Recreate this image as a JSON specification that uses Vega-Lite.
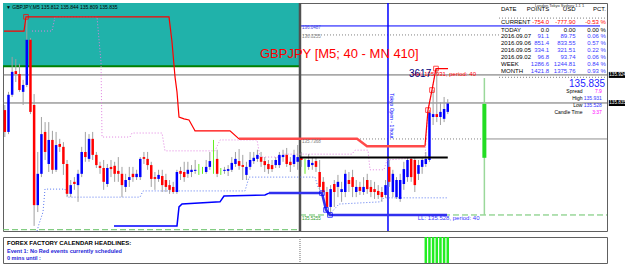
{
"$schema":"https://vega.github.io/schema/vega-lite/v6.json",
"padding":{"left":1,"top":1,"right":0,"bottom":0},
"background":"#ffffff",
"spacing":1,
"config":{"font":"Liberation Sans","view":{"stroke":"#606060","strokeWidth":1},"axis":{"grid":false,"title":null,"labelFontSize":5,"labelColor":"#000000","tickColor":"#000000","domainColor":"#404040","labelOverlap":false,"labelFlush":false,"labelBound":false}},
"datasets":{
"candles":[
{"i":0,"o":135.817,"h":135.831,"l":135.743,"c":135.757},
{"i":1,"o":135.757,"h":135.867,"l":135.751,"c":135.859},
{"i":2,"o":135.859,"h":135.963,"l":135.853,"c":135.922},
{"i":3,"o":135.924,"h":135.957,"l":135.894,"c":135.916},
{"i":4,"o":135.916,"h":135.944,"l":135.867,"c":135.872},
{"i":5,"o":135.867,"h":135.900,"l":135.831,"c":135.886},
{"i":6,"o":135.886,"h":136.073,"l":135.880,"c":136.010},
{"i":7,"o":136.010,"h":136.015,"l":135.806,"c":135.812},
{"i":8,"o":135.831,"h":135.861,"l":135.499,"c":135.556},
{"i":9,"o":135.556,"h":135.702,"l":135.537,"c":135.642},
{"i":10,"o":135.642,"h":135.798,"l":135.633,"c":135.751},
{"i":11,"o":135.757,"h":135.784,"l":135.680,"c":135.702},
{"i":12,"o":135.669,"h":135.784,"l":135.647,"c":135.735},
{"i":13,"o":135.735,"h":135.760,"l":135.642,"c":135.653},
{"i":14,"o":135.653,"h":135.757,"l":135.647,"c":135.721},
{"i":15,"o":135.724,"h":135.738,"l":135.702,"c":135.716},
{"i":16,"o":135.716,"h":135.729,"l":135.639,"c":135.669},
{"i":17,"o":135.669,"h":135.680,"l":135.578,"c":135.587},
{"i":18,"o":135.587,"h":135.625,"l":135.578,"c":135.611},
{"i":19,"o":135.620,"h":135.633,"l":135.598,"c":135.614},
{"i":20,"o":135.611,"h":135.653,"l":135.565,"c":135.642},
{"i":21,"o":135.642,"h":135.716,"l":135.633,"c":135.702},
{"i":22,"o":135.702,"h":135.757,"l":135.675,"c":135.688},
{"i":23,"o":135.683,"h":135.751,"l":135.675,"c":135.738},
{"i":24,"o":135.738,"h":135.757,"l":135.680,"c":135.694},
{"i":25,"o":135.694,"h":135.702,"l":135.658,"c":135.666},
{"i":26,"o":135.664,"h":135.675,"l":135.642,"c":135.658},
{"i":27,"o":135.658,"h":135.680,"l":135.598,"c":135.620},
{"i":28,"o":135.614,"h":135.669,"l":135.606,"c":135.658},
{"i":29,"o":135.661,"h":135.680,"l":135.633,"c":135.655},
{"i":30,"o":135.664,"h":135.675,"l":135.620,"c":135.642},
{"i":31,"o":135.650,"h":135.688,"l":135.620,"c":135.642},
{"i":32,"o":135.642,"h":135.661,"l":135.578,"c":135.611},
{"i":33,"o":135.606,"h":135.642,"l":135.592,"c":135.625},
{"i":34,"o":135.625,"h":135.661,"l":135.606,"c":135.633},
{"i":35,"o":135.642,"h":135.661,"l":135.620,"c":135.633},
{"i":36,"o":135.633,"h":135.653,"l":135.625,"c":135.642},
{"i":37,"o":135.633,"h":135.688,"l":135.625,"c":135.683},
{"i":38,"o":135.688,"h":135.702,"l":135.669,"c":135.683},
{"i":39,"o":135.683,"h":135.702,"l":135.653,"c":135.666},
{"i":40,"o":135.666,"h":135.675,"l":135.606,"c":135.628},
{"i":41,"o":135.633,"h":135.647,"l":135.598,"c":135.628},
{"i":42,"o":135.628,"h":135.653,"l":135.620,"c":135.639},
{"i":43,"o":135.636,"h":135.653,"l":135.592,"c":135.611},
{"i":44,"o":135.625,"h":135.642,"l":135.592,"c":135.606},
{"i":45,"o":135.611,"h":135.625,"l":135.587,"c":135.598},
{"i":46,"o":135.606,"h":135.620,"l":135.587,"c":135.592},
{"i":47,"o":135.592,"h":135.653,"l":135.587,"c":135.647},
{"i":48,"o":135.650,"h":135.661,"l":135.625,"c":135.642},
{"i":49,"o":135.647,"h":135.675,"l":135.620,"c":135.633},
{"i":50,"o":135.642,"h":135.675,"l":135.631,"c":135.653},
{"i":51,"o":135.647,"h":135.666,"l":135.633,"c":135.653},
{"i":52,"o":135.650,"h":135.680,"l":135.642,"c":135.653},
{"i":53,"o":135.650,"h":135.669,"l":135.639,"c":135.650},
{"i":54,"o":135.650,"h":135.661,"l":135.642,"c":135.650},
{"i":55,"o":135.647,"h":135.680,"l":135.642,"c":135.661},
{"i":56,"o":135.661,"h":135.702,"l":135.653,"c":135.677},
{"i":57,"o":135.675,"h":135.735,"l":135.642,"c":135.675},
{"i":58,"o":135.683,"h":135.708,"l":135.633,"c":135.642},
{"i":59,"o":135.647,"h":135.658,"l":135.639,"c":135.647},
{"i":60,"o":135.650,"h":135.661,"l":135.642,"c":135.653},
{"i":61,"o":135.650,"h":135.666,"l":135.636,"c":135.655},
{"i":62,"o":135.653,"h":135.688,"l":135.647,"c":135.672},
{"i":63,"o":135.669,"h":135.702,"l":135.661,"c":135.683},
{"i":64,"o":135.677,"h":135.710,"l":135.653,"c":135.664},
{"i":65,"o":135.666,"h":135.694,"l":135.625,"c":135.661},
{"i":66,"o":135.639,"h":135.675,"l":135.625,"c":135.661},
{"i":67,"o":135.661,"h":135.702,"l":135.653,"c":135.680},
{"i":68,"o":135.677,"h":135.702,"l":135.669,"c":135.686},
{"i":69,"o":135.683,"h":135.708,"l":135.675,"c":135.694},
{"i":70,"o":135.688,"h":135.702,"l":135.661,"c":135.675},
{"i":71,"o":135.677,"h":135.688,"l":135.647,"c":135.666},
{"i":72,"o":135.669,"h":135.680,"l":135.642,"c":135.655},
{"i":73,"o":135.666,"h":135.680,"l":135.647,"c":135.655},
{"i":74,"o":135.666,"h":135.688,"l":135.658,"c":135.680},
{"i":75,"o":135.666,"h":135.702,"l":135.658,"c":135.694},
{"i":76,"o":135.688,"h":135.708,"l":135.675,"c":135.694},
{"i":77,"o":135.694,"h":135.713,"l":135.661,"c":135.669},
{"i":78,"o":135.675,"h":135.688,"l":135.647,"c":135.666},
{"i":79,"o":135.669,"h":135.708,"l":135.661,"c":135.694},
{"i":80,"o":135.675,"h":135.721,"l":135.653,"c":135.688},
{"i":81,"o":135.686,"h":135.702,"l":135.661,"c":135.680},
{"i":82,"o":135.666,"h":135.683,"l":135.642,"c":135.666},
{"i":83,"o":135.661,"h":135.696,"l":135.653,"c":135.680},
{"i":84,"o":135.666,"h":135.688,"l":135.653,"c":135.672},
{"i":85,"o":135.677,"h":135.688,"l":135.647,"c":135.661},
{"i":86,"o":135.647,"h":135.680,"l":135.598,"c":135.606},
{"i":87,"o":135.620,"h":135.633,"l":135.589,"c":135.592},
{"i":88,"o":135.592,"h":135.606,"l":135.543,"c":135.551},
{"i":89,"o":135.551,"h":135.611,"l":135.528,"c":135.600},
{"i":90,"o":135.614,"h":135.625,"l":135.551,"c":135.592},
{"i":91,"o":135.606,"h":135.639,"l":135.578,"c":135.620},
{"i":92,"o":135.592,"h":135.620,"l":135.565,"c":135.600},
{"i":93,"o":135.592,"h":135.653,"l":135.578,"c":135.642},
{"i":94,"o":135.625,"h":135.647,"l":135.592,"c":135.614},
{"i":95,"o":135.633,"h":135.653,"l":135.578,"c":135.606},
{"i":96,"o":135.592,"h":135.625,"l":135.578,"c":135.606},
{"i":97,"o":135.606,"h":135.620,"l":135.584,"c":135.595},
{"i":98,"o":135.592,"h":135.633,"l":135.584,"c":135.606},
{"i":99,"o":135.625,"h":135.642,"l":135.587,"c":135.600},
{"i":100,"o":135.606,"h":135.625,"l":135.578,"c":135.592},
{"i":101,"o":135.600,"h":135.620,"l":135.573,"c":135.592},
{"i":102,"o":135.595,"h":135.611,"l":135.573,"c":135.584},
{"i":103,"o":135.592,"h":135.606,"l":135.565,"c":135.578},
{"i":104,"o":135.584,"h":135.625,"l":135.576,"c":135.611},
{"i":105,"o":135.661,"h":135.680,"l":135.606,"c":135.620},
{"i":106,"o":135.592,"h":135.653,"l":135.578,"c":135.642},
{"i":107,"o":135.578,"h":135.633,"l":135.573,"c":135.625},
{"i":108,"o":135.573,"h":135.642,"l":135.565,"c":135.625},
{"i":109,"o":135.614,"h":135.675,"l":135.598,"c":135.655},
{"i":110,"o":135.633,"h":135.688,"l":135.620,"c":135.680},
{"i":111,"o":135.683,"h":135.688,"l":135.620,"c":135.633},
{"i":112,"o":135.680,"h":135.688,"l":135.592,"c":135.611},
{"i":113,"o":135.642,"h":135.680,"l":135.625,"c":135.666},
{"i":114,"o":135.661,"h":135.688,"l":135.642,"c":135.680},
{"i":115,"o":135.669,"h":135.702,"l":135.661,"c":135.683},
{"i":116,"o":135.680,"h":135.817,"l":135.675,"c":135.810},
{"i":117,"o":135.798,"h":135.872,"l":135.776,"c":135.806},
{"i":118,"o":135.806,"h":135.931,"l":135.784,"c":135.798},
{"i":119,"o":135.798,"h":135.839,"l":135.776,"c":135.812},
{"i":120,"o":135.793,"h":135.853,"l":135.784,"c":135.820},
{"i":121,"o":135.812,"h":135.847,"l":135.806,"c":135.835}
],
"hh":[
{"seg":"a","x":-0.23,"p":136.034},{"seg":"a","x":5.24,"p":136.034},{"seg":"a","x":5.78,"p":136.073},{"seg":"a","x":44.85,"p":136.073},{"seg":"a","x":45.67,"p":136.004},{"seg":"a","x":46.49,"p":135.908},{"seg":"a","x":47.03,"p":135.867},{"seg":"a","x":47.58,"p":135.798},{"seg":"a","x":48.95,"p":135.793},{"seg":"a","x":50.31,"p":135.79},{"seg":"a","x":51.68,"p":135.765},{"seg":"a","x":51.95,"p":135.76},{"seg":"a","x":61.51,"p":135.76},{"seg":"a","x":63.97,"p":135.738},
{"seg":"b","x":63.97,"p":135.738},{"seg":"b","x":96.21,"p":135.738},{"seg":"b","x":98.94,"p":135.718},{"seg":"b","x":114.78,"p":135.718},
{"seg":"c","x":114.78,"p":135.718},{"seg":"c","x":115.6,"p":135.817},{"seg":"c","x":116.69,"p":135.872},{"seg":"c","x":117.78,"p":135.931},{"seg":"c","x":121.06,"p":135.931}
],
"ll":[
{"seg":"a","x":29.82,"p":135.499},{"seg":"a","x":47.03,"p":135.499},{"seg":"a","x":47.58,"p":135.551},{"seg":"a","x":48.4,"p":135.559},{"seg":"a","x":58.78,"p":135.565},{"seg":"a","x":59.87,"p":135.581},{"seg":"a","x":71.07,"p":135.584},{"seg":"a","x":72.17,"p":135.589},
{"seg":"b","x":72.17,"p":135.589},{"seg":"b","x":86.64,"p":135.589},{"seg":"b","x":87.74,"p":135.543},{"seg":"b","x":88.83,"p":135.529},{"seg":"b","x":120.79,"p":135.529}
],
"pink":[
{"x":7.42,"p":136.034},{"x":12.89,"p":136.034},{"x":13.71,"p":136.073},{"x":25.18,"p":136.073},{"x":26.27,"p":135.949},{"x":26.55,"p":135.743},{"x":34.19,"p":135.743},{"x":34.74,"p":135.754},{"x":42.94,"p":135.754},{"x":43.75,"p":135.705},{"x":57.41,"p":135.705},{"x":58.78,"p":135.735},{"x":68.89,"p":135.735},{"x":69.71,"p":135.688},{"x":75.72,"p":135.688},{"x":76.27,"p":135.696},{"x":94.84,"p":135.696},{"x":95.66,"p":135.707},{"x":99.21,"p":135.707},{"x":99.76,"p":135.653},{"x":103.58,"p":135.653},{"x":104.4,"p":135.68},{"x":114.78,"p":135.688},{"x":115.6,"p":135.817},{"x":116.69,"p":135.872},{"x":117.78,"p":135.931},{"x":121.06,"p":135.931}
],
"bdot":[
{"x":8.79,"p":135.485},{"x":9.33,"p":135.504},{"x":10.43,"p":135.537},{"x":10.97,"p":135.6},{"x":16.44,"p":135.6},{"x":17.26,"p":135.578},{"x":36.93,"p":135.578},{"x":37.75,"p":135.595},{"x":65.61,"p":135.595},{"x":66.7,"p":135.633},{"x":84.73,"p":135.633},{"x":85.55,"p":135.606},{"x":86.64,"p":135.589},{"x":87.74,"p":135.543},{"x":88.83,"p":135.532},{"x":91.29,"p":135.559},{"x":102.49,"p":135.565},{"x":103.58,"p":135.576},{"x":120.79,"p":135.576}
],
"squares":[
{"s":"hh","x":5.78,"p":136.073},{"s":"hh","x":115.6,"p":135.817},{"s":"hh","x":116.69,"p":135.872},{"s":"hh","x":117.78,"p":135.931},
{"s":"ll","x":86.64,"p":135.589},{"s":"ll","x":87.74,"p":135.543},{"s":"ll","x":88.83,"p":135.529}
],
"table":[
{"r":-1.85,"grp":"head","label":"DATE","pts":"POINTS","usd":"USD","pct":"PCT."},
{"r":0,"grp":"cur","label":"CURRENT","pts":"-754.0","usd":"-777.90","pct":"-0.53 %"},
{"r":1.1,"grp":"today","label":"TODAY","pts":"0.0","usd":"0.00","pct":"0.00 %"},
{"r":2,"grp":"hist","label":"2016.09.07","pts":"91.1","usd":"89.75","pct":"0.06 %"},
{"r":3,"grp":"hist","label":"2016.09.06","pts":"851.4","usd":"833.55","pct":"0.57 %"},
{"r":4,"grp":"hist","label":"2016.09.05","pts":"334.1","usd":"321.51","pct":"0.22 %"},
{"r":5,"grp":"hist","label":"2016.09.02","pts":"96.8","usd":"93.74","pct":"0.06 %"},
{"r":6,"grp":"hist","label":"WEEK","pts":"1286.6","usd":"1244.81","pct":"0.84 %"},
{"r":7,"grp":"hist","label":"MONTH","pts":"1421.8","usd":"1375.76","pct":"0.93 %"}
],
"info":[
{"r":9.86,"label":"Spread","val":"7.9","kind":"mag"},
{"r":10.8,"label":"High","val":"135.931","kind":"blue"},
{"r":11.8,"label":"Low","val":"135.528","kind":"blue"},
{"r":12.8,"label":"Candle Time","val":"3:37","kind":"mag"}
],
"levels":[
{"t":"136.0487","p":136.041,"g":"b"},{"t":"136.0255","p":136.018,"g":"g"},{"t":"135.7368","p":135.729,"g":"g"},{"t":"135.5255","p":135.519,"g":"gr"}
],
"ind":[{"i":115},{"i":116},{"i":117},{"i":118},{"i":119},{"i":120},{"i":121}]
},
"vconcat":[
{
"width":604,"height":228,
"layer":[
{"layer":[
{"data":{"values":[{"a":-0.5,"b":80.4,"lo":135.937,"hi":136.111}]},
"mark":{"type":"rect","color":"#20b2aa"},
"encoding":{
"x":{"field":"a","type":"quantitative","scale":{"domain":[-0.5,164.5],"nice":false,"zero":false},"axis":null},
"x2":{"field":"b"},
"y":{"field":"lo","type":"quantitative","scale":{"domain":[135.485,136.111],"nice":false,"zero":false},"axis":{"orient":"right","values":[135.485,135.53,135.575,135.62,135.665,135.71,135.755,135.8,135.845,135.89,135.935,135.98,136.025,136.07],"format":".3f","tickSize":2,"labelPadding":1,"labelFontSize":5}},
"y2":{"field":"hi"}}},
{"data":{"values":[{"a":-0.5,"b":80.4,"p":135.937}]},"mark":{"type":"rule","color":"#008000","strokeWidth":2},
"encoding":{"x":{"field":"a","type":"quantitative","axis":null},"x2":{"field":"b"},"y":{"field":"p","type":"quantitative","axis":null}}},
{"data":{"values":[{"p":135.9135},{"p":135.8365}]},"mark":{"type":"rule","color":"#6a6a6a","strokeWidth":1},
"encoding":{"y":{"field":"p","type":"quantitative","axis":null}}},
{"data":{"values":[{"a":80.63,"b":162.6,"p":136.048}]},"mark":{"type":"rule","color":"#0000ff","strokeWidth":1},
"encoding":{"x":{"field":"a","type":"quantitative","axis":null},"x2":{"field":"b"},"y":{"field":"p","type":"quantitative","axis":null}}},
{"data":{"values":[{"a":80.63,"b":135,"p":136.0233},{"a":80.63,"b":131,"p":135.7377},{"a":135,"b":164.5,"p":136.0696},{"a":135,"b":164.5,"p":135.907}]},"mark":{"type":"rule","color":"#808080","strokeWidth":1,"strokeDash":[1,2]},
"encoding":{"x":{"field":"a","type":"quantitative","axis":null},"x2":{"field":"b"},"y":{"field":"p","type":"quantitative","axis":null}}},
{"data":{"values":[{"a":131,"b":164.5,"p":135.7377}]},"mark":{"type":"rule","color":"#909090","strokeWidth":1},
"encoding":{"x":{"field":"a","type":"quantitative","axis":null},"x2":{"field":"b"},"y":{"field":"p","type":"quantitative","axis":null}}},
{"data":{"values":[{"a":-0.5,"b":80.63,"p":135.4886},{"a":80.63,"b":164.5,"p":135.529}]},"mark":{"type":"rule","color":"#66c266","strokeWidth":1,"strokeDash":[6,3]},
"encoding":{"x":{"field":"a","type":"quantitative","axis":null},"x2":{"field":"b"},"y":{"field":"p","type":"quantitative","axis":null}}},
{"data":{"values":[{"x":80.63}]},"mark":{"type":"rule","color":"#505050","strokeWidth":2.5},
"encoding":{"x":{"field":"x","type":"quantitative","axis":null}}},
{"data":{"values":[{"x":104.67}]},"mark":{"type":"rule","color":"#0000ff","strokeWidth":1.5},
"encoding":{"x":{"field":"x","type":"quantitative","axis":null}}},
{"data":{"values":[{"x":131,"lo":135.529,"hi":135.905}]},"mark":{"type":"rule","color":"#9ad89a","strokeWidth":1.5},
"encoding":{"x":{"field":"x","type":"quantitative","axis":null},"y":{"field":"lo","type":"quantitative","axis":null},"y2":{"field":"hi"}}},
{"data":{"values":[{"x":131,"lo":135.686,"hi":135.834}]},"mark":{"type":"rule","color":"#22dd22","strokeWidth":4},
"encoding":{"x":{"field":"x","type":"quantitative","axis":null},"y":{"field":"lo","type":"quantitative","axis":null},"y2":{"field":"hi"}}},
{"data":{"name":"pink"},"mark":{"type":"line","color":"#e080e0","strokeWidth":1,"strokeDash":[1,2]},
"encoding":{"x":{"field":"x","type":"quantitative","axis":null},"y":{"field":"p","type":"quantitative","axis":null}}},
{"data":{"name":"bdot"},"mark":{"type":"line","color":"#5a78f0","strokeWidth":1,"strokeDash":[1,2]},
"encoding":{"x":{"field":"x","type":"quantitative","axis":null},"y":{"field":"p","type":"quantitative","axis":null}}},
{"data":{"name":"candles"},"mark":{"type":"rule","strokeWidth":1},
"encoding":{"x":{"field":"i","type":"quantitative","axis":null},"y":{"field":"l","type":"quantitative","axis":null},"y2":{"field":"h"},
"color":{"condition":{"test":"datum.o == datum.c","value":"#66ee22"},"value":"#a0a0a0"}}},
{"data":{"name":"candles"},"mark":{"type":"rule","strokeWidth":2.5},
"encoding":{"x":{"field":"i","type":"quantitative","axis":null},"y":{"field":"o","type":"quantitative","axis":null},"y2":{"field":"c"},
"color":{"condition":{"test":"datum.c > datum.o","value":"#0000ff"},"value":"#ff0000"}}},
{"data":{"name":"hh"},"transform":[{"filter":"datum.seg !== 'b'"}],"mark":{"type":"line","color":"#ff0000","strokeWidth":1.2},
"encoding":{"x":{"field":"x","type":"quantitative","axis":null},"y":{"field":"p","type":"quantitative","axis":null},"detail":{"field":"seg"}}},
{"data":{"name":"hh"},"transform":[{"filter":"datum.seg === 'b'"}],"mark":{"type":"line","color":"#ff4a4a","strokeWidth":2.5},
"encoding":{"x":{"field":"x","type":"quantitative","axis":null},"y":{"field":"p","type":"quantitative","axis":null}}},
{"data":{"name":"ll"},"transform":[{"filter":"datum.seg === 'a'"}],"mark":{"type":"line","color":"#0000ff","strokeWidth":1.5},
"encoding":{"x":{"field":"x","type":"quantitative","axis":null},"y":{"field":"p","type":"quantitative","axis":null}}},
{"data":{"name":"ll"},"transform":[{"filter":"datum.seg === 'b'"}],"mark":{"type":"line","color":"#3030ee","strokeWidth":2.5},
"encoding":{"x":{"field":"x","type":"quantitative","axis":null},"y":{"field":"p","type":"quantitative","axis":null}}},
{"data":{"values":[{"a":80.63,"b":121,"p":135.6866}]},"mark":{"type":"rule","color":"#000000","strokeWidth":2},
"encoding":{"x":{"field":"a","type":"quantitative","axis":null},"x2":{"field":"b"},"y":{"field":"p","type":"quantitative","axis":null}}},
{"data":{"name":"squares"},"mark":{"type":"point","shape":"square","filled":false,"size":22,"strokeWidth":1},
"encoding":{"x":{"field":"x","type":"quantitative","axis":null},"y":{"field":"p","type":"quantitative","axis":null},
"color":{"condition":{"test":"datum.s === 'hh'","value":"#ff0000"},"value":"#0000ff"}}},
{"data":{"values":[{}]},"mark":{"type":"text","text":"GBPJPY [M5; 40 - MN 410]","align":"left","baseline":"middle","fontSize":13,"color":"#ff0000"},
"encoding":{"x":{"datum":69.7,"axis":null},"y":{"datum":135.971,"axis":null}}},
{"data":{"values":[{}]},"mark":{"type":"text","text":"HH: 135.931, period: 40","align":"left","baseline":"middle","fontSize":6,"color":"#ff0000"},
"encoding":{"x":{"datum":111.3,"axis":null},"y":{"datum":135.916,"axis":null}}},
{"data":{"values":[{}]},"mark":{"type":"text","text":"3617","align":"left","baseline":"middle","fontSize":10,"color":"#000080"},
"encoding":{"x":{"datum":110.4,"axis":null},"y":{"datum":135.916,"axis":null}}},
{"data":{"values":[{}]},"mark":{"type":"text","text":"LL: 135.528, period: 40","align":"left","baseline":"middle","fontSize":6,"color":"#3535ff"},
"encoding":{"x":{"datum":112.8,"axis":null},"y":{"datum":135.52,"axis":null}}},
{"data":{"values":[{}]},"mark":{"type":"text","text":"Tokyo Open - 1 hour","align":"center","baseline":"middle","fontSize":5,"angle":90,"color":"#0000ff"},
"encoding":{"x":{"datum":105.9,"axis":null},"y":{"datum":135.801,"axis":null}}},
{"data":{"values":[{}]},"mark":{"type":"text","text":"▼ GBPJPY,M5  135.812 135.844 135.809 135.835","align":"left","baseline":"middle","fontSize":5,"color":"#000000"},
"encoding":{"x":{"datum":0.3,"axis":null},"y":{"datum":136.1,"axis":null}}},
{"data":{"name":"levels"},"mark":{"type":"text","align":"left","baseline":"middle","fontSize":4.5},
"encoding":{"x":{"datum":81.2,"axis":null},"y":{"field":"p","type":"quantitative","axis":null},"text":{"field":"t"},
"color":{"condition":[{"test":"datum.g === 'b'","value":"#4848e0"},{"test":"datum.g === 'gr'","value":"#2a9a2a"}],"value":"#808080"}}},
{"data":{"values":[{"p":135.9135,"t":"135.924"},{"p":135.8365,"t":"135.835"}]},"mark":{"type":"rule","color":"#000000","strokeWidth":6},
"encoding":{"x":{"datum":165.0,"axis":null},"x2":{"datum":169.8},"y":{"field":"p","type":"quantitative","axis":null}}},
{"data":{"values":[{"p":135.9135,"t":"135.924"},{"p":135.8365,"t":"135.835"}]},"mark":{"type":"text","color":"#ffffff","fontSize":4.6,"align":"center","baseline":"middle"},
"encoding":{"x":{"datum":167.4,"axis":null},"y":{"field":"p","type":"quantitative","axis":null},"text":{"field":"t"}}}
]},
{"layer":[
{"data":{"name":"table"},"mark":{"type":"text","align":"left","baseline":"middle","fontSize":6,"color":"#000000"},
"encoding":{"x":{"datum":135.54,"axis":null},"y":{"field":"r","type":"quantitative","scale":{"domain":[-2.714,29.857],"reverse":true,"nice":false,"zero":false},"axis":null},"text":{"field":"label"}}},
{"data":{"name":"table"},"mark":{"type":"text","align":"right","baseline":"middle","fontSize":6},
"encoding":{"x":{"datum":148.7,"axis":null},"y":{"field":"r","type":"quantitative","axis":null},"text":{"field":"pts"},
"color":{"condition":[{"test":"datum.grp === 'cur'","value":"#ff0000"},{"test":"datum.grp === 'hist'","value":"#3a3aff"}],"value":"#000000"}}},
{"data":{"name":"table"},"mark":{"type":"text","align":"right","baseline":"middle","fontSize":6},
"encoding":{"x":{"datum":155.9,"axis":null},"y":{"field":"r","type":"quantitative","axis":null},"text":{"field":"usd"},
"color":{"condition":[{"test":"datum.grp === 'cur'","value":"#ff0000"},{"test":"datum.grp === 'hist'","value":"#3a3aff"}],"value":"#000000"}}},
{"data":{"name":"table"},"mark":{"type":"text","align":"right","baseline":"middle","fontSize":6},
"encoding":{"x":{"datum":164.2,"axis":null},"y":{"field":"r","type":"quantitative","axis":null},"text":{"field":"pct"},
"color":{"condition":[{"test":"datum.grp === 'cur'","value":"#ff0000"},{"test":"datum.grp === 'hist'","value":"#3a3aff"}],"value":"#000000"}}},
{"data":{"values":[{}]},"mark":{"type":"text","text":"London  Tokyo  Sydney  1.1 1","align":"left","baseline":"middle","fontSize":4,"color":"#333333"},
"encoding":{"x":{"datum":144.8,"axis":null},"y":{"datum":-2.3,"axis":null}}},
{"data":{"values":[{}]},"mark":{"type":"text","text":"135.835","align":"right","baseline":"middle","fontSize":10,"color":"#1f1fff"},
"encoding":{"x":{"datum":164.0,"axis":null},"y":{"datum":8.86,"axis":null}}},
{"data":{"name":"info"},"mark":{"type":"text","align":"right","baseline":"middle","fontSize":5,"color":"#000000"},
"encoding":{"x":{"datum":157.8,"axis":null},"y":{"field":"r","type":"quantitative","axis":null},"text":{"field":"label"}}},
{"data":{"name":"info"},"mark":{"type":"text","align":"right","baseline":"middle","fontSize":5},
"encoding":{"x":{"datum":163.1,"axis":null},"y":{"field":"r","type":"quantitative","axis":null},"text":{"field":"val"},
"color":{"condition":{"test":"datum.kind === 'mag'","value":"#ff00ff"},"value":"#3333ff"}}}
]}
],
"resolve":{"scale":{"y":"independent"}}
},
{
"width":604,"height":26,
"layer":[
{"data":{"name":"ind"},"mark":{"type":"rule","color":"#22ee22","strokeWidth":2.5},
"encoding":{
"x":{"field":"i","type":"quantitative","scale":{"domain":[-0.5,164.5],"nice":false,"zero":false},
"axis":{"orient":"bottom","values":[0,8,16,24,32,40,48,56,64,72,80,88,96,104,112,120],"labelExpr":"['7 Sep 2016','7 Sep 17:55','7 Sep 18:35','7 Sep 19:15','7 Sep 19:55','7 Sep 20:35','7 Sep 21:15','7 Sep 21:55','7 Sep 22:35','7 Sep 23:15','7 Sep 23:55','8 Sep 00:35','8 Sep 01:15','8 Sep 01:55','8 Sep 02:35','8 Sep 03:15'][round(datum.value/8)]","labelAlign":"left","labelFontSize":5,"tickSize":3,"labelPadding":1,"labelOffset":1}},
"y":{"datum":0,"type":"quantitative","scale":{"domain":[0,1],"nice":false,"zero":false},"axis":{"orient":"right","values":[0,1],"format":"d","labelFlush":true,"tickSize":2,"labelFontSize":5}},
"y2":{"datum":1}}},
{"data":{"values":[{"x":80.63}]},"mark":{"type":"rule","color":"#707070","strokeWidth":1,"strokeDash":[1,1]},
"encoding":{"x":{"field":"x","type":"quantitative","axis":null}}},
{"data":{"values":[{}]},"mark":{"type":"text","text":"FOREX FACTORY CALENDAR  HEADLINES:","align":"left","baseline":"middle","fontSize":6,"fontWeight":"bold","color":"#000000"},
"encoding":{"x":{"datum":0.6,"axis":null},"y":{"datum":0.77,"axis":null}}},
{"data":{"values":[{}]},"mark":{"type":"text","text":"Event 1: No Red events currently scheduled","align":"left","baseline":"middle","fontSize":5.5,"fontWeight":"bold","color":"#2323d8"},
"encoding":{"x":{"datum":0.6,"axis":null},"y":{"datum":0.46,"axis":null}}},
{"data":{"values":[{}]},"mark":{"type":"text","text":"0 mins until :","align":"left","baseline":"middle","fontSize":5.5,"fontWeight":"bold","color":"#2323d8"},
"encoding":{"x":{"datum":0.6,"axis":null},"y":{"datum":0.19,"axis":null}}}
]
}
]
}
